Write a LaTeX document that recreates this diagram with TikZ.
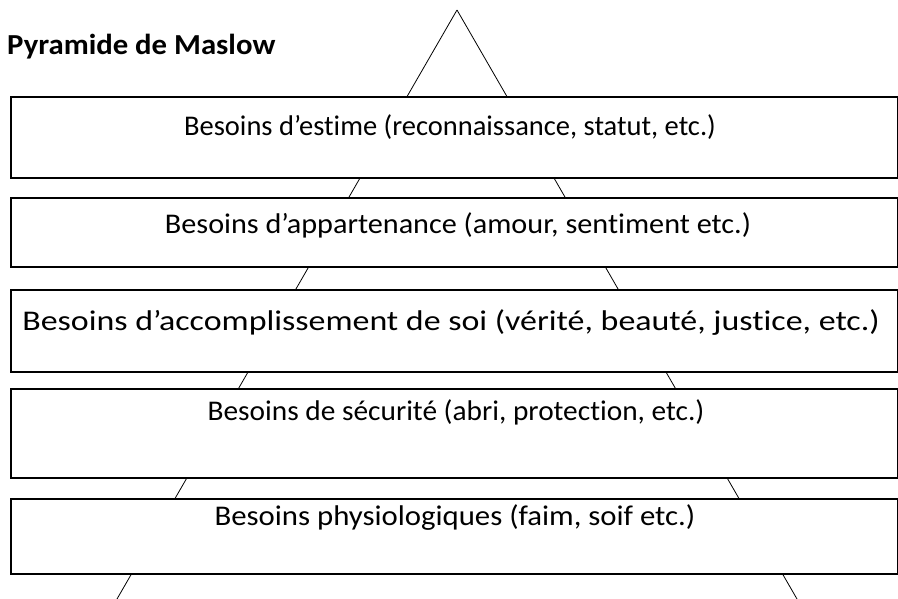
\documentclass[tikz,border=0pt]{standalone}
\usepackage{fontspec}
\usepackage{graphicx}
\setmainfont{Carlito}[Ligatures={TeX,NoCommon}]
\begin{document}
\begin{tikzpicture}[x=1pt,y=-1pt,
  box/.style={draw=black, line width=1.8pt, fill=white, anchor=north west, inner sep=0pt, minimum width=887pt},
  lbl/.style={anchor=base, inner sep=0pt, font=\fontsize{28.5}{32}\selectfont},
  edge/.style={draw=black, line width=0.8pt}]
\useasboundingbox (0,0) rectangle (898,599);
\coordinate (apex) at (457,10);
\coordinate (bl) at (117,599);
\coordinate (br) at (797,599);
\draw[edge] (apex) -- (bl);
\draw[edge] (apex) -- (br);
\node[anchor=base west, inner sep=0pt, font=\bfseries\fontsize{29}{33}\selectfont] (title) at (7,55) {\scalebox{1.06}[1]{Pyramide de Maslow}};
\node[box, minimum height=81pt] (b1) at (10,96) {};
\node[box, minimum height=69pt] (b2) at (10,197) {};
\node[box, minimum height=82pt] (b3) at (10,289) {};
\node[box, minimum height=89pt] (b4) at (10,388) {};
\node[box, minimum height=75pt] (b5) at (10,498) {};
\node[lbl] (t1) at (450,136) {Besoins d’estime (reconnaissance, statut, etc.)};
\node[lbl] (t2) at (458,234) {\scalebox{1.06}[1]{Besoins d’appartenance (amour, sentiment etc.)}};
\node[lbl] (t3) at (451,330) {\scalebox{1.19}[1]{Besoins d’accomplissement de soi (vérité, beauté, justice, etc.)}};
\node[lbl] (t4) at (456,420) {\scalebox{1.03}[1]{Besoins de sécurité (abri, protection, etc.)}};
\node[lbl] (t5) at (455,525) {\scalebox{1.08}[1]{Besoins physiologiques (faim, soif etc.)}};
\end{tikzpicture}
\end{document}
